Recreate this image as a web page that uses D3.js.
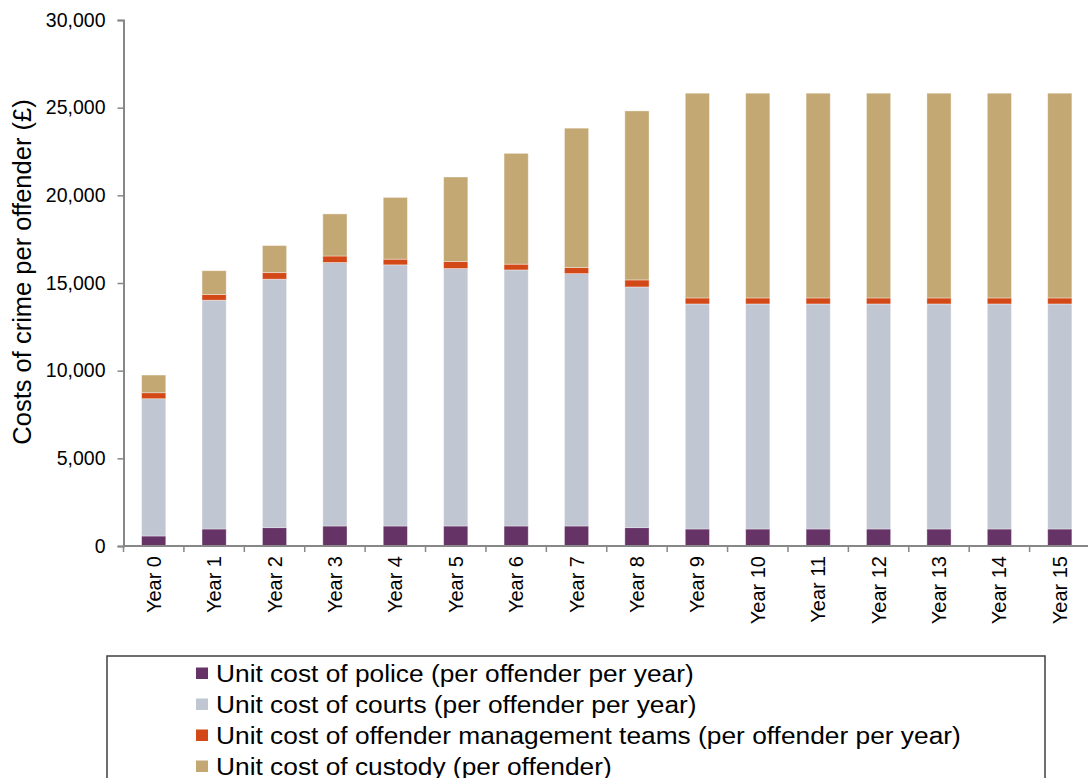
<!DOCTYPE html>
<html>
<head>
<meta charset="utf-8">
<script src="https://cdn.jsdelivr.net/npm/d3@7"></script>
<style>
  html, body { margin: 0; padding: 0; background: #fff; }
  svg { display: block; font-family: "Liberation Sans", Arial, sans-serif; }
</style>
</head>
<body>
<svg id="chart" width="1088" height="778"></svg>
<script>
const years = ["Year 0","Year 1","Year 2","Year 3","Year 4","Year 5","Year 6","Year 7","Year 8","Year 9","Year 10","Year 11","Year 12","Year 13","Year 14","Year 15"];
const police  = [570, 970, 1045, 1140, 1140, 1140, 1140, 1140, 1045, 970, 970, 970, 970, 970, 970, 970];
const courts  = [7830, 13050, 14175, 15030, 14895, 14685, 14605, 14395, 13730, 12835, 12835, 12835, 12835, 12835, 12835, 12835];
const omt     = [340, 330, 370, 370, 325, 405, 330, 345, 400, 342, 342, 342, 342, 342, 342, 342];
const custody = [1010, 1350, 1545, 2400, 3520, 4815, 6320, 7950, 9640, 11678, 11678, 11678, 11678, 11678, 11678, 11678];
const seriesNames = [
  "Unit cost of police (per offender per year)",
  "Unit cost of courts (per offender per year)",
  "Unit cost of offender management teams (per offender per year)",
  "Unit cost of custody (per offender)"
];
const seriesKeys = ["police","courts","omt","custody"];
const seriesColors = ["#663366", "#c0c6d2", "#d34817", "#c3a874"];
const yTicks = [0, 5000, 10000, 15000, 20000, 25000, 30000];

(function () {
const rows = years.map((y, i) => ({year: y, police: police[i], courts: courts[i], omt: omt[i], custody: custody[i]}));
const stack = d3.stack().keys(seriesKeys)(rows);

const svg = d3.select("#chart");
const mLeft = 123.5, mRight = 1090, mTop = 20, mBottom = 546;

const x = d3.scaleBand().domain(years).range([mLeft, mRight]).paddingInner(0.6).paddingOuter(0.3);
const y = d3.scaleLinear().domain([0, 30000]).range([mBottom, mTop]);

const axisColor = "#878787";

// bars
svg.append("g").selectAll("g").data(stack).join("g")
  .attr("fill", (d, i) => seriesColors[i])
  .selectAll("rect").data(d => d).join("rect")
  .attr("x", d => x(d.data.year))
  .attr("width", x.bandwidth())
  .attr("y", d => y(d[1]))
  .attr("height", d => y(d[0]) - y(d[1]))
  .attr("stroke", "rgba(255,255,255,0.45)")
  .attr("stroke-width", 0.8);

// y axis
const yAxis = d3.axisLeft(y).tickValues(yTicks).tickSize(6).tickPadding(12).tickFormat(d3.format(","));
const gy = svg.append("g").attr("transform", `translate(${mLeft},0)`).call(yAxis);
gy.select(".domain").attr("stroke", axisColor).attr("stroke-width", 2);
gy.selectAll(".tick line").attr("stroke", axisColor).attr("stroke-width", 1.5);
gy.selectAll(".tick text").attr("fill", "#000").style("font-size", "19.5px").style("font-family", "Liberation Sans, Arial, sans-serif");

// x axis
const xAxis = d3.axisBottom(x).tickSize(0).tickPadding(0);
const gx = svg.append("g").attr("transform", `translate(0,${mBottom})`).call(xAxis);
gx.select(".domain").attr("stroke", axisColor).attr("stroke-width", 2).attr("d", `M${mLeft},0H${mRight}`);
gx.selectAll(".tick text")
  .attr("fill", "#000")
  .style("font-size", "20px")
  .style("font-family", "Liberation Sans, Arial, sans-serif")
  .attr("text-anchor", "end")
  .attr("transform", "translate(0,10) rotate(-90)")
  .attr("x", 0).attr("y", 0).attr("dy", "0.35em");

// boundary ticks
const step = x.step();
const gap = (step - x.bandwidth()) / 2;
const bounds = years.map(d => x(d) - gap).concat([x(years[years.length - 1]) + x.bandwidth() + gap]);
svg.append("g").selectAll("line").data(bounds).join("line")
  .attr("x1", d => d).attr("x2", d => d)
  .attr("y1", mBottom).attr("y2", mBottom + 6)
  .attr("stroke", axisColor).attr("stroke-width", 1.5);

// y title
svg.append("text")
  .attr("transform", `translate(31,272) rotate(-90)`)
  .attr("text-anchor", "middle")
  .style("font-size", "25.5px")
  .attr("fill", "#000")
  .text("Costs of crime per offender (£)");

// legend
const lg = svg.append("g");
lg.append("rect").attr("x", 107).attr("y", 656).attr("width", 938).attr("height", 160)
  .attr("fill", "#fff").attr("stroke", "#3f3f3f").attr("stroke-width", 1.5);
const items = lg.selectAll("g.item").data(seriesNames).join("g").attr("class", "item")
  .attr("transform", (d, i) => `translate(196,${681.5 + i * 31})`);
items.append("rect").attr("x", 0).attr("y", -14).attr("width", 12).attr("height", 11.5)
  .attr("fill", (d, i) => seriesColors[i]);
items.append("text").attr("transform", "translate(20,0) scale(1.12,1)")
  .style("font-size", "23.5px").attr("fill", "#000").text(d => d);
})();
</script>
</body>
</html>
